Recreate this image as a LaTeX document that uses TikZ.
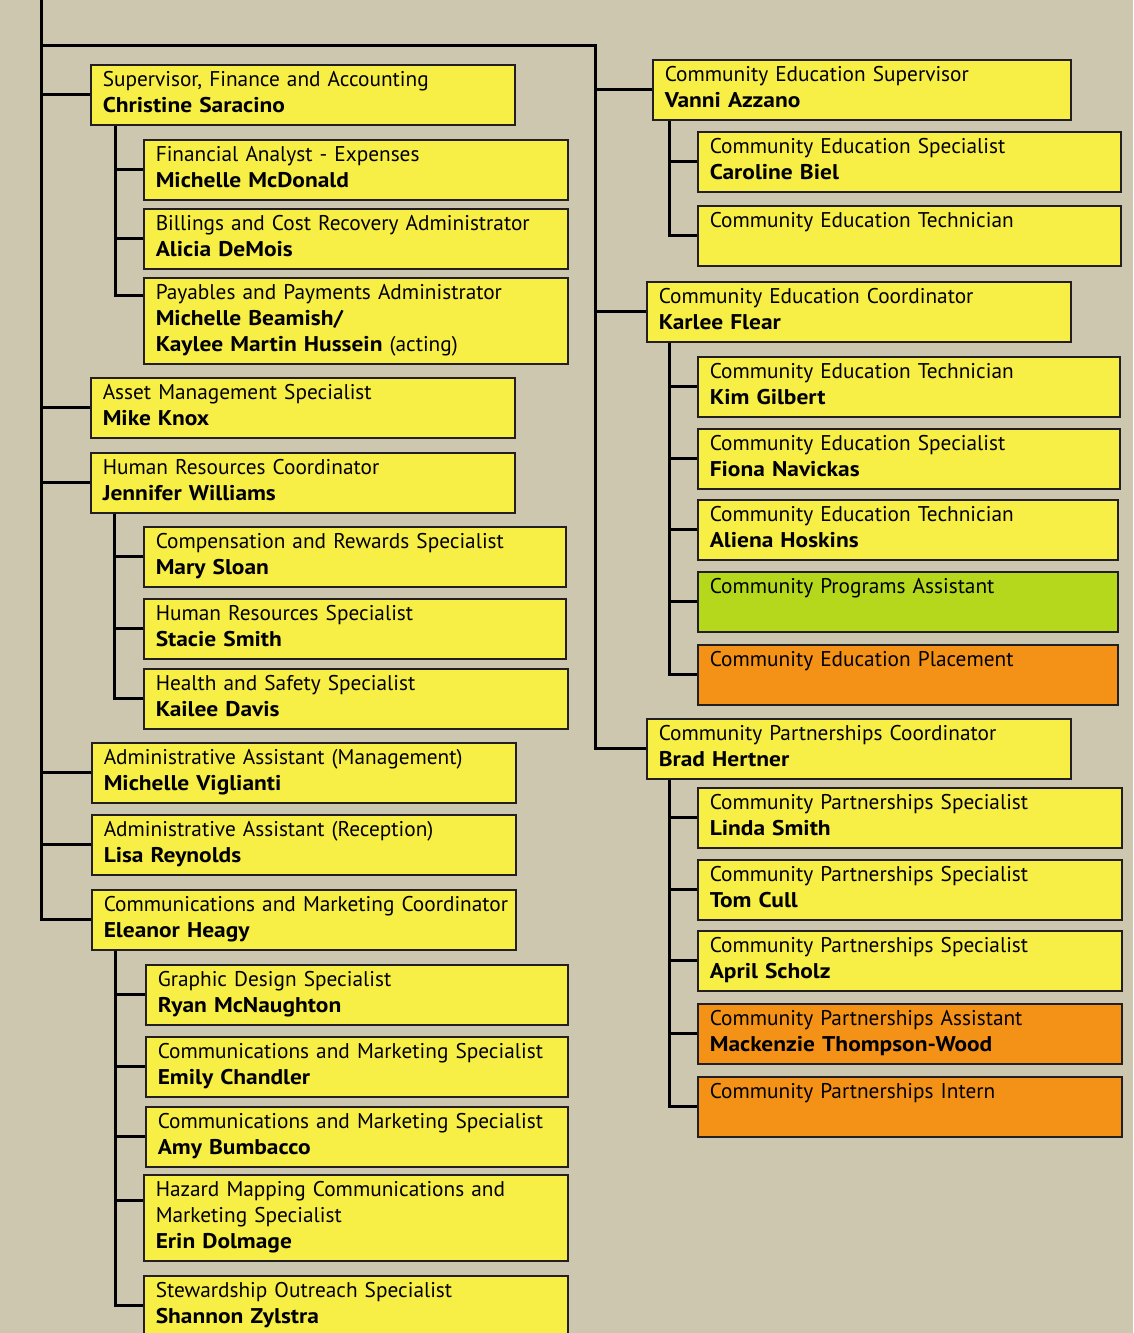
\documentclass[tikz,border=0pt]{standalone}
\usepackage{fontspec}
\setmainfont{PT Sans}[BoldFeatures={FakeStretch=1.1}]
\usepackage{tikz}
\definecolor{bgtan}{RGB}{206,199,176}
\definecolor{boxyellow}{RGB}{247,238,70}
\definecolor{boxgreen}{RGB}{181,216,28}
\definecolor{boxorange}{RGB}{243,146,22}
\definecolor{boxline}{RGB}{35,31,32}

\begin{document}
\begin{tikzpicture}[x=1pt,y=-1pt,line join=miter,
	box/.style={draw=boxline,line width=1.5pt,fill=boxyellow,anchor=north west,align=left,
		inner xsep=12pt,inner ysep=4pt,text width=400pt,
		font=\fontsize{21.3}{26}\selectfont,execute at begin node=\strut,execute at end node=\strut},
	link/.style={draw=black,line width=3pt}]
	\useasboundingbox (0,0) rectangle (1133,1333);
	\clip (0,0) rectangle (1133,1333);
	\fill[bgtan] (0,0) rectangle (1133,1333);
	% left column
	\node[box] (fin) at (90,64) {Supervisor, Finance and Accounting\\\textbf{Christine Saracino}};
	\node[box] (fa) at (143,139) {Financial Analyst - Expenses\\\textbf{Michelle McDonald}};
	\node[box] (bill) at (143,208) {Billings and Cost Recovery Administrator\\\textbf{Alicia DeMois}};
	\node[box] (pay) at (143,277) {Payables and Payments Administrator\\\textbf{Michelle Beamish/}\\\textbf{Kaylee Martin Hussein} (acting)};
	\node[box] (asset) at (90,377) {Asset Management Specialist\\\textbf{Mike Knox}};
	\node[box] (hr) at (90,452) {Human Resources Coordinator\\\textbf{Jennifer Williams}};
	\node[box,text width=398pt] (comp) at (143,526) {Compensation and Rewards Specialist\\\textbf{Mary Sloan}};
	\node[box,text width=398pt] (hrs) at (143,598) {Human Resources Specialist\\\textbf{Stacie Smith}};
	\node[box] (hs) at (143,668) {Health and Safety Specialist\\\textbf{Kailee Davis}};
	\node[box] (admm) at (91,742) {Administrative Assistant (Management)\\\textbf{Michelle Viglianti}};
	\node[box] (admr) at (91,814) {Administrative Assistant (Reception)\\\textbf{Lisa Reynolds}};
	\node[box] (mkt) at (91,889) {\mbox{Communications and Marketing Coordinator}\\\textbf{Eleanor Heagy}};
	\node[box,text width=398pt] (gd) at (145,964) {Graphic Design Specialist\\\textbf{Ryan McNaughton}};
	\node[box,text width=398pt] (emily) at (145,1036) {Communications and Marketing Specialist\\\textbf{Emily Chandler}};
	\node[box,text width=398pt] (amy) at (145,1106) {Communications and Marketing Specialist\\\textbf{Amy Bumbacco}};
	\node[box] (haz) at (143,1174) {Hazard Mapping Communications and\\Marketing Specialist\\\textbf{Erin Dolmage}};
	\node[box] (stew) at (143,1275) {Stewardship Outreach Specialist\\\textbf{Shannon Zylstra}};
	% right column
	\node[box,text width=394pt] (ces) at (652,59) {Community Education Supervisor\\\textbf{Vanni Azzano}};
	\node[box,text width=399pt] (caro) at (697,131) {Community Education Specialist\\\textbf{Caroline Biel}};
	\node[box,text width=399pt] (cet) at (697,205) {Community Education Technician\\~};
	\node[box] (karlee) at (646,281) {Community Education Coordinator\\\textbf{Karlee Flear}};
	\node[box,text width=398pt] (kim) at (697,356) {Community Education Technician\\\textbf{Kim Gilbert}};
	\node[box,text width=398pt] (fiona) at (697,428) {Community Education Specialist\\\textbf{Fiona Navickas}};
	\node[box,text width=396pt] (aliena) at (697,499) {Community Education Technician\\\textbf{Aliena Hoskins}};
	\node[box,text width=396pt,fill=boxgreen] (cpa) at (697,571) {Community Programs Assistant\\~};
	\node[box,text width=396pt,fill=boxorange] (cep) at (697,644) {Community Education Placement\\~};
	\node[box] (brad) at (646,718) {Community Partnerships Coordinator\\\textbf{Brad Hertner}};
	\node[box] (linda) at (697,787) {Community Partnerships Specialist\\\textbf{Linda Smith}};
	\node[box] (tom) at (697,859) {Community Partnerships Specialist\\\textbf{Tom Cull}};
	\node[box] (april) at (697,930) {Community Partnerships Specialist\\\textbf{April Scholz}};
	\node[box,fill=boxorange] (mack) at (697,1003) {Community Partnerships Assistant\\\textbf{Mackenzie Thompson-Wood}};
	\node[box,fill=boxorange] (intern) at (697,1076) {Community Partnerships Intern\\~};
	% trunk lines
	\coordinate (top) at (41,-5);
	\coordinate (fork) at (595,45);
	\draw[link] (top) |- (mkt.west);
	\draw[link] (top |- fork) -- (fork) |- (brad.west);
	\foreach \n in {fin,asset,hr,admm,admr}
	\draw[link] (top |- \n.west) -- (\n.west);
	\foreach \n in {ces,karlee}
	\draw[link] (fork |- \n.west) -- (\n.west);
	% finance
	\foreach \n in {fa,bill}
	\draw[link] ([xshift=25pt]fin.south west) |- (\n.west);
	\draw[link] ([xshift=25pt]fin.south west) |- ([yshift=-18pt]pay.north west);
	% human resources
	\foreach \n in {comp,hrs,hs}
	\draw[link] ([xshift=24pt]hr.south west) |- (\n.west);
	% communications
	\foreach \n in {gd,emily,amy,stew}
	\draw[link] ([xshift=24pt]mkt.south west) |- (\n.west);
	\draw[link] ([xshift=24pt]mkt.south west) |- ([yshift=-26pt]haz.north west);
	% community education
	\foreach \n in {caro,cet}
	\draw[link] ([xshift=17pt]ces.south west) |- (\n.west);
	\foreach \n in {kim,fiona,aliena,cpa,cep}
	\draw[link] ([xshift=23pt]karlee.south west) |- (\n.west);
	% partnerships
	\foreach \n in {linda,tom,april,mack,intern}
	\draw[link] ([xshift=23pt]brad.south west) |- (\n.west);
\end{tikzpicture}
\end{document}
